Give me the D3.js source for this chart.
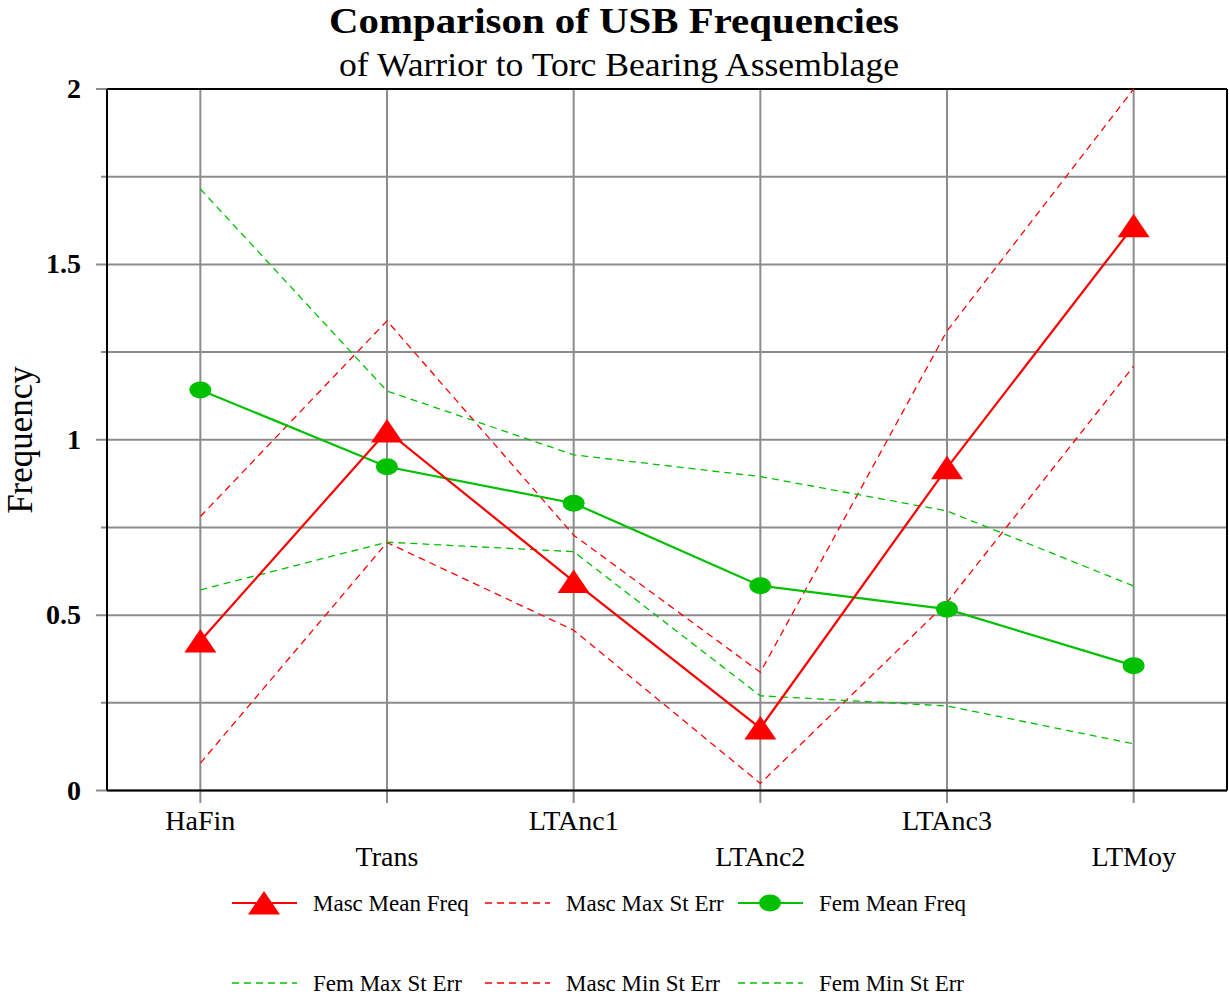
<!DOCTYPE html>
<html><head><meta charset="utf-8">
<script src="https://cdn.jsdelivr.net/npm/d3@7"></script>
<style>body{margin:0;background:#fff}svg{display:block}text{font-family:"Liberation Serif","Times New Roman",serif;fill:#000}</style>
</head><body><svg id="c" width="1229" height="1000"></svg>
<script>
const categories = ["HaFin","Trans","LTAnc1","LTAnc2","LTAnc3","LTMoy"];
const mascMean = [0.426,1.025,0.596,0.178,0.920,1.61];
const mascMax  = [0.781,1.339,0.728,0.337,1.31,2.0];
const mascMin  = [0.078,0.707,0.457,0.02,0.536,1.21];
const femMean  = [1.142,0.923,0.819,0.584,0.517,0.356];
const femMax   = [1.715,1.139,0.957,0.895,0.797,0.583];
const femMin   = [0.572,0.708,0.681,0.270,0.241,0.133];
const yTicks = [0,0.25,0.5,0.75,1,1.25,1.5,1.75,2];
const yLabels = {0:"0",0.5:"0.5",1:"1",1.5:"1.5",2:"2"};
const legendItems = [
  {name:"Masc Mean Freq", color:"#ff0000", dash:null, marker:"tri"},
  {name:"Masc Max St Err", color:"#ff0000", dash:"7,5", marker:null},
  {name:"Fem Mean Freq", color:"#00c000", dash:null, marker:"circ"},
  {name:"Fem Max St Err", color:"#00c000", dash:"7,5", marker:null},
  {name:"Masc Min St Err", color:"#ff0000", dash:"7,5", marker:null},
  {name:"Fem Min St Err", color:"#00c000", dash:"7,5", marker:null}
];
const RED="#ff0000", GREEN="#00c000", GRID="#8c8c8c";
const svg = d3.select("#c");
const L=107, R=1227, T=89, B=790.5;
const x = d3.scalePoint().domain(categories).range([L,R]).padding(0.5);
const y = d3.scaleLinear().domain([0,2]).range([B,T]);

// title
svg.append("text").attr("x",614).attr("y",33).attr("text-anchor","middle")
  .attr("textLength",570).attr("lengthAdjust","spacingAndGlyphs")
  .style("font-size","36px").style("font-weight","bold").text("Comparison of USB Frequencies");
svg.append("text").attr("x",619).attr("y",76).attr("text-anchor","middle")
  .attr("textLength",560).attr("lengthAdjust","spacingAndGlyphs")
  .style("font-size","34px").text("of Warrior to Torc Bearing Assemblage");

// horizontal grid + y ticks
const gy = svg.append("g");
gy.selectAll("line.g").data(yTicks).join("line")
  .attr("x1",d=> yLabels[d]!==undefined?96:101).attr("x2",R)
  .attr("y1",d=>y(d)).attr("y2",d=>y(d)).attr("stroke",GRID).attr("stroke-width",2);
gy.selectAll("text").data(yTicks.filter(d=>yLabels[d]!==undefined)).join("text")
  .attr("x",81).attr("y",d=>y(d)+9).attr("text-anchor","end")
  .style("font-size","28px").style("font-weight","bold").text(d=>yLabels[d]);

// vertical grid
const gx = svg.append("g");
gx.selectAll("line").data(categories).join("line")
  .attr("x1",d=>x(d)).attr("x2",d=>x(d)).attr("y1",T).attr("y2",803)
  .attr("stroke",GRID).attr("stroke-width",2);
gx.selectAll("text").data(categories).join("text")
  .attr("x",d=>x(d)).attr("y",(d,i)=> i%2===0?830:866).attr("text-anchor","middle")
  .style("font-size","28px").text(d=>d);

// frame
svg.append("line").attr("x1",L).attr("x2",L).attr("y1",T).attr("y2",B).attr("stroke","#000").attr("stroke-width",2);
svg.append("line").attr("x1",L).attr("x2",R).attr("y1",B).attr("y2",B).attr("stroke","#000").attr("stroke-width",2);
svg.append("line").attr("x1",L).attr("x2",R).attr("y1",T).attr("y2",T).attr("stroke","#000").attr("stroke-width",2);
svg.append("line").attr("x1",R).attr("x2",R).attr("y1",T).attr("y2",B).attr("stroke","#000").attr("stroke-width",2);

// y title
svg.append("text").attr("transform","translate(32,440) rotate(-90)").attr("text-anchor","middle")
  .style("font-size","35px").text("Frequency");

const line = d3.line().x((d,i)=>x(categories[i])).y(d=>y(d));
const dashed = [[mascMax,RED],[mascMin,RED],[femMax,GREEN],[femMin,GREEN]];
dashed.forEach(([arr,c])=>{
  svg.append("path").attr("d",line(arr)).attr("fill","none").attr("stroke",c)
    .attr("stroke-width",1.3).attr("stroke-dasharray","7,5");
});
svg.append("path").attr("d",line(femMean)).attr("fill","none").attr("stroke",GREEN).attr("stroke-width",2.2);
svg.append("path").attr("d",line(mascMean)).attr("fill","none").attr("stroke",RED).attr("stroke-width",2.2);

function tri(g,cx,cy){ g.append("path").attr("d",`M${cx},${cy-12}L${cx+16},${cy+11.5}L${cx-16},${cy+11.5}Z`).attr("fill",RED); }
function circ(g,cx,cy){ g.append("ellipse").attr("cx",cx).attr("cy",cy).attr("rx",11).attr("ry",8.5).attr("fill",GREEN); }
femMean.forEach((v,i)=>circ(svg,x(categories[i]),y(v)));
mascMean.forEach((v,i)=>tri(svg,x(categories[i]),y(v)));

// legend
const lg = svg.append("g");
const colX=[232,485,738], rowY=[903,983];
legendItems.forEach((it,i)=>{
  const cx=colX[i%3], cy=rowY[Math.floor(i/3)];
  const ln = lg.append("line").attr("x1",cx).attr("x2",cx+65).attr("y1",cy).attr("y2",cy)
    .attr("stroke",it.color).attr("stroke-width",it.dash?1.3:2.2);
  if(it.dash) ln.attr("stroke-dasharray",it.dash);
  if(it.marker==="tri") tri(lg,cx+32,cy);
  if(it.marker==="circ") circ(lg,cx+32,cy);
  lg.append("text").attr("x",cx+81).attr("y",cy+8).style("font-size","23px").text(it.name);
});
</script></body></html>
